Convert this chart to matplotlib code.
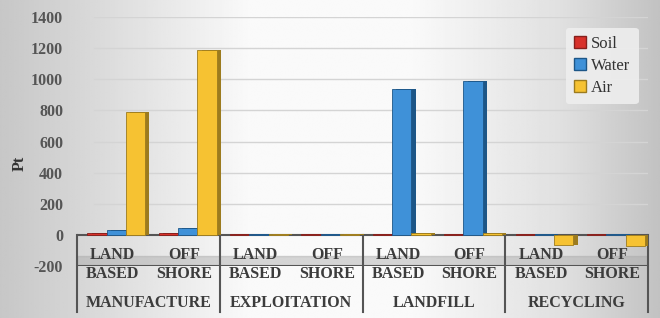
import numpy as np
import matplotlib.pyplot as plt
from matplotlib.patches import Patch

plt.rcParams['font.family'] = ['Liberation Serif', 'DejaVu Serif']

# data
groups = ["MANUFACTURE", "EXPLOITATION", "LANDFILL", "RECYCLING"]
sub_top = ["LAND", "OFF"] * 4
sub_bottom = ["BASED", "SHORE"] * 4
soil = [12, 15, 8, 8, 8, 8, 8, 8]
water = [30, 45, 8, 8, 935, 990, 8, 8]
air = [790, 1190, 8, 8, 10, 10, -65, -70]
yticks = [-200, 0, 200, 400, 600, 800, 1000, 1200, 1400]

fig = plt.figure(figsize=(6.6, 3.18), dpi=100)

# background gradient
bg = fig.add_axes([0, 0, 1, 1], zorder=-10)
xs = np.linspace(0, 1, 400)
shade = np.interp(xs, [0, 0.12, 0.38, 0.62, 0.85, 1.0], [0.78, 0.84, 0.98, 0.98, 0.88, 0.76])
bg.imshow(np.tile(shade, (10, 1)), cmap='gray', vmin=0, vmax=1, aspect='auto',
          extent=[0, 1, 0, 1])
bg.axis('off')

ax = fig.add_axes([77 / 660, 52 / 318, 571 / 660, 249 / 318])
ax.patch.set_alpha(0)
ax.set_xlim(-0.5, 7.5)
ax.set_ylim(-200, 1400)

x = np.arange(len(sub_top))
w = 0.27
depth = 0.12
series = [
    (soil, -w, "#d8312a", "#86201c", "Soil"),
    (water, 0.0, "#3f91d8", "#1d5687", "Water"),
    (air, w, "#f6c232", "#9c7b1e", "Air"),
]
for vals, off, col, dark, name in series:
    ax.bar(x + off + 0.05 + depth / 2, vals, width=w, color=dark, zorder=3)
    ax.bar(x + off + 0.05, vals, width=w, color=col, edgecolor=dark,
           linewidth=0.6, zorder=4)

# gridlines
for t in yticks[2:]:
    ax.axhline(t, xmin=0.03, xmax=1, color="#d4d4d4", lw=1, zorder=1)

# floor band and category box
ax.axhspan(-200, -135, color="#a8a8a8", alpha=0.45, zorder=0)
ax.axhline(0, color="#555555", lw=1.5, zorder=2)
ax.axhline(-200, color="#555555", lw=1.5, zorder=2)
for b in [-0.5, 1.5, 3.5, 5.5, 7.5]:
    ax.plot([b, b], [0, -497], color="#555555", lw=1.5, clip_on=False, zorder=2)

lab = dict(ha='center', va='center', fontsize=11.5, fontweight='bold',
           color="#3c3c3c", clip_on=False)
for i in range(len(sub_top)):
    ax.text(x[i], -130, sub_top[i], **lab)
    ax.text(x[i], -252, sub_bottom[i], **lab)
for g, name in enumerate(groups):
    ax.text(2 * g + 0.5, -440, name, **lab)

ax.set_yticks(yticks)
ax.set_yticklabels([str(t) for t in yticks], fontsize=11.5, fontweight='bold',
                   color="#555555")
ax.tick_params(axis='y', length=0, pad=10)
ax.set_xticks([])
for s in ax.spines.values():
    s.set_visible(False)

fig.text(20 / 660, 1 - 163 / 318, "Pt", rotation=90, ha='center', va='center',
         fontsize=11.5, fontweight='bold', color="#333333")

handles = [Patch(facecolor=c, edgecolor=d, label=n) for _, _, c, d, n in series]
leg = ax.legend(handles=handles, loc='upper right', bbox_to_anchor=(0.998, 0.99),
                fontsize=12, frameon=True, handlelength=0.7, handleheight=0.7,
                handletextpad=0.3, labelspacing=0.35, borderpad=0.5)
leg.get_frame().set_facecolor("#eeeeee")
leg.get_frame().set_edgecolor("none")
leg.get_frame().set_alpha(0.9)
for t in leg.get_texts():
    t.set_color("#333333")

fig.savefig("out.png", dpi=100)
